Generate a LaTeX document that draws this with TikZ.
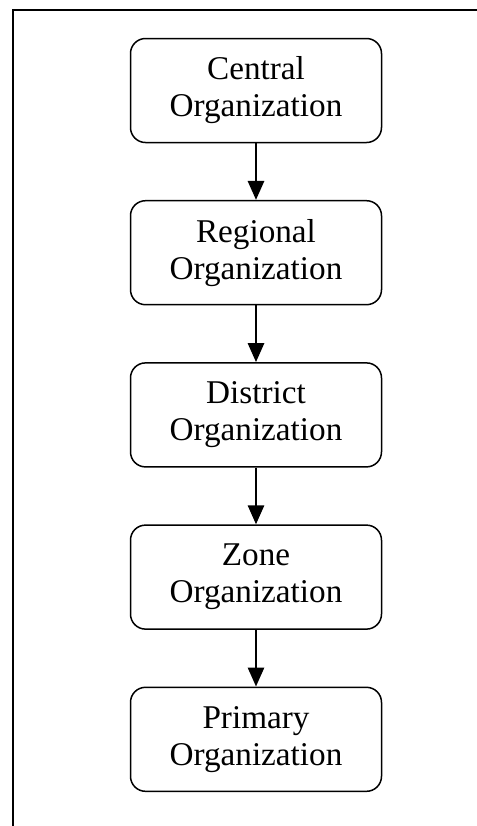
\documentclass[tikz,border=0pt]{standalone}
\usepackage{fontspec}
\setmainfont{Liberation Serif}
\usetikzlibrary{arrows.meta}

\begin{document}
\begin{tikzpicture}[node distance={81.1pt}, main/.style = {draw, line width=0.75pt, rounded corners=7.5pt, minimum width=125.5pt, minimum height=52pt, align=center, font=\fontsize{16.6}{18.5}\selectfont}, link/.style = {line width=1.4pt, -{Triangle[length=9.5pt,width=8pt]}}]
\useasboundingbox (0,0) rectangle (238.5pt,-413pt);
\draw[line width=1pt] (6.25pt,-413pt) -- (6.25pt,-4.75pt) -- (238.5pt,-4.75pt);
\node[main] (central) at (128pt,-45.25pt) {Central\\Organization};
\node[main] (regional) [below of=central] {Regional\\Organization};
\node[main] (district) [below of=regional] {District\\Organization};
\node[main] (zone) [below of=district] {Zone\\Organization};
\node[main] (primary) [below of=zone] {Primary\\Organization};
\draw[link] (central) -- (regional);
\draw[link] (regional) -- (district);
\draw[link] (district) -- (zone);
\draw[link] (zone) -- (primary);
\end{tikzpicture}
\end{document}
